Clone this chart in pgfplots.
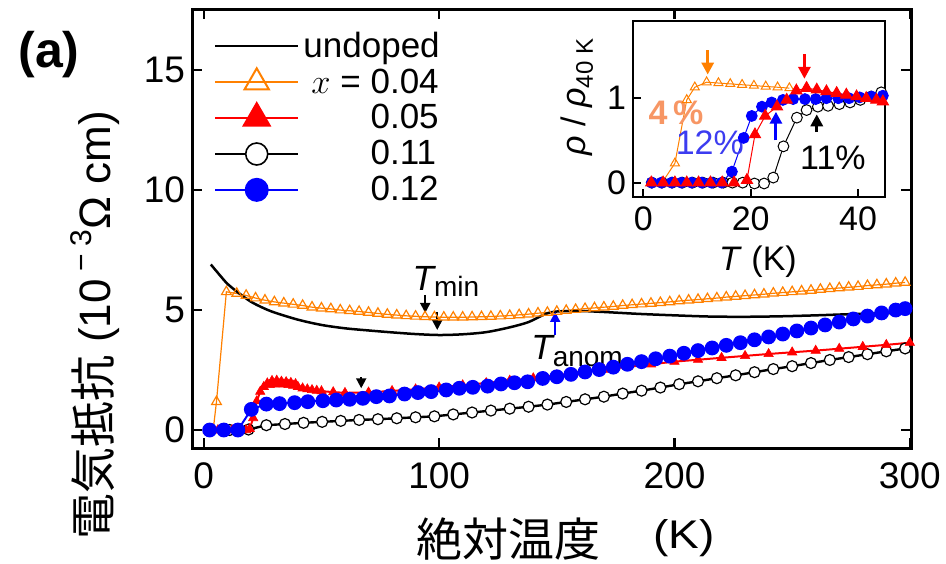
\documentclass[border=0pt]{standalone}
\usepackage{fontspec}
\setmainfont{Liberation Sans}
\newfontfamily\cjk{Noto Sans CJK JP}
\usepackage{pgfplots}
\pgfplotsset{compat=1.18}
\usetikzlibrary{arrows.meta}
\definecolor{cOrange}{RGB}{255,128,0}
\definecolor{cRed}{RGB}{255,0,0}
\definecolor{cBlue}{RGB}{0,0,255}
\definecolor{cSalmon}{RGB}{247,150,100}
\definecolor{cBlueT}{RGB}{60,60,240}
\begin{document}
\begin{tikzpicture}
\path[use as bounding box] (0pt,0pt) rectangle (473pt,281.5pt);
% ---------------- main axis ----------------
\begin{axis}[
  at={(96pt,57.5pt)}, anchor=south west,
  width=359.5pt, height=219.5pt, scale only axis,
  xmin=-5, xmax=300.5, ymin=-0.75, ymax=17.55,
  xtick={0,100,200,300}, ytick={0,5,10,15},
  minor tick num=0,
  tick align=inside, major tick length=5pt,
  axis line style={line width=1.5pt},
  every tick/.style={line width=1.2pt, black},
  /pgf/number format/assume math mode=true,
  tick label style={font=\fontsize{18.5}{20}\selectfont},
  xticklabel style={yshift=-4pt},
  legend cell align=left,
  legend style={draw=none, fill=none, at={(0.03,0.958)}, anchor=north west,
    font=\fontsize{17.5}{19}\selectfont, row sep=0.2pt, inner sep=0pt},
  legend image code/.code={\draw[mark repeat=2,mark phase=2,#1] plot coordinates {(0pt,0pt) (20.75pt,0pt) (41.5pt,0pt)};},
]
% orange x=0.04
\addplot[forget plot, cOrange, line width=0.6pt, mark=triangle, mark size=2.8pt, mark options={fill=white, line width=0.6pt}] coordinates {
(2,0) (4,0) (5.4,1.18) (9.6,5.76) (14,5.69) (18,5.61) (22,5.50) (26,5.41) (30,5.34) (34,5.29) (38,5.24)
(42,5.19) (46,5.12) (50,5.08) (54,5.05) (58,5.00) (62,4.97) (66,4.94) (70,4.90) (74,4.86) (78,4.82)
(82,4.79) (86,4.76) (90,4.74) (94,4.72) (98,4.71) (102,4.70) (106,4.70) (110,4.70) (114,4.71) (118,4.72)
(122,4.73) (126,4.75) (130,4.77) (134,4.80) (138,4.83) (142,4.87) (146,4.90) (150,4.94) (154,4.98) (158,5.02)
(162,5.06) (166,5.09) (170,5.12) (174,5.15) (178,5.19) (182,5.22) (186,5.25) (190,5.28) (194,5.31) (198,5.34)
(202,5.38) (206,5.41) (210,5.44) (214,5.47) (218,5.50) (222,5.54) (226,5.57) (230,5.60) (234,5.63) (238,5.66)
(242,5.70) (246,5.73) (250,5.76) (254,5.79) (258,5.82) (262,5.86) (266,5.89) (270,5.92) (274,5.95) (278,5.98)
(282,6.02) (286,6.05) (290,6.08) (294,6.12) (298,6.15)};
% undoped
\addplot[forget plot, black, line width=1.25pt, smooth] coordinates {
(3,6.9) (6,6.55) (10,6.1) (15,5.7) (20,5.35) (25,5.1) (30,4.9) (40,4.6) (50,4.38) (60,4.24) (70,4.15)
(80,4.07) (90,4.0) (100,3.96) (110,3.99) (120,4.08) (130,4.28) (138,4.5) (145,4.83) (150,4.94) (160,4.96)
(170,4.92) (185,4.84) (200,4.78) (215,4.73) (230,4.72) (245,4.74) (260,4.78) (275,4.83) (290,4.87) (300,4.9)};
% x=0.11 open circles
\addplot[forget plot, black, line width=1.2pt, mark=*, mark size=2.75pt, mark options={fill=white, line width=0.6pt}] coordinates {
(3,0) (11,0) (19,0.02) (26.6,0.2) (34.5,0.25) (42.4,0.3) (50.3,0.34) (58.2,0.38) (66,0.42) (74,0.45)
(82,0.49) (90,0.53) (98,0.57) (106,0.65) (114,0.73) (122,0.81) (130,0.89) (138,0.97) (146,1.06) (154,1.17)
(162,1.28) (170,1.39) (178,1.52) (186,1.64) (194,1.77) (202,1.91) (210,2.03) (218,2.16) (226,2.28) (234,2.41)
(242,2.54) (250,2.66) (258,2.79) (266,2.92) (274,3.04) (282,3.16) (290,3.28) (298,3.40)};
% x=0.05 red triangles
\addplot[forget plot, cRed, line width=1pt, mark=triangle*, mark size=2.7pt, mark options={line width=0.3pt}] coordinates {
(2,0) (4,0) (6,0) (8,0) (10,0) (12,0) (14,0) (16,0) (18,0) (19.5,0.05) (21,0.5) (22.5,1.2) (24,1.6)
(25.5,1.8) (27,1.95) (28,1.88) (29,2.05) (30,1.9) (31,2.06) (32,1.92) (33,2.02) (34,1.9) (35,2.0)
(36,1.88) (37,1.97) (38,1.85) (39,1.92) (40,1.8) (42,1.74) (44,1.7) (46,1.67) (48,1.64) (50,1.62)
(55,1.58) (60,1.55) (70,1.57) (80,1.63) (90,1.7) (100,1.78) (110,1.87) (120,1.96) (130,2.06) (140,2.16)
(150,2.28) (160,2.4) (170,2.52) (180,2.63) (190,2.74) (200,2.85) (210,2.93) (220,3.01) (230,3.09)
(240,3.17) (250,3.24) (260,3.31) (270,3.39) (280,3.47) (290,3.55) (300,3.64)};
% x=0.12 blue circles
\addplot[forget plot, cBlue, line width=1pt, mark=*, mark size=3.2pt] coordinates {
(2.5,0) (8.5,0) (14.5,0) (20.2,0.86) (26.6,1.08) (32.2,1.1) (38.6,1.14) (44.2,1.18) (50.6,1.22) (56.3,1.25)
(62,1.28) (67.6,1.32) (73.3,1.39) (78.9,1.42) (85.3,1.5) (91,1.56) (96.6,1.6) (103,1.67) (108.6,1.74)
(114.3,1.78) (120.6,1.83) (126.3,1.92) (132,1.97) (137.6,2.01) (144,2.15) (150,2.22) (156,2.32) (162,2.42)
(168,2.52) (174,2.62) (180,2.74) (186,2.85) (192,2.97) (198,3.08) (204,3.2) (210,3.31) (216,3.42)
(222,3.53) (228,3.64) (234,3.76) (240,3.88) (246,4.0) (252,4.13) (258,4.25) (264,4.38) (270,4.5)
(276,4.63) (282,4.75) (288,4.88) (294,5.0) (298,5.06)};
% legend
\addlegendimage{black, line width=1.25pt}
\addlegendentry{undoped}
\addlegendimage{cOrange, line width=1pt, mark=triangle, mark size=7pt, mark options={fill=white, line width=1pt}}
\addlegendentry{\hspace*{4pt}$x$ = 0.04}
\addlegendimage{cRed, line width=1pt, mark=triangle*, mark size=7.5pt}
\addlegendentry{\hspace*{4pt}\phantom{$x$ = }0.05}
\addlegendimage{black, line width=1pt, mark=*, mark size=5.5pt, mark options={fill=white, line width=0.8pt}}
\addlegendentry{\hspace*{4pt}\phantom{$x$ = }0.11}
\addlegendimage{cBlue, line width=1pt, mark=*, mark size=5.5pt}
\addlegendentry{\hspace*{4pt}\phantom{$x$ = }0.12}
% annotations
\draw[black, line width=1pt, -{Triangle[length=5pt,width=5pt]}] (axis cs:94.1,5.63) -- (axis cs:94.1,4.88);
\draw[black, line width=1pt, -{Triangle[length=5pt,width=5pt]}] (axis cs:99.2,4.92) -- (axis cs:99.2,4.17);
\draw[black, line width=1pt, -{Triangle[length=5pt,width=5pt]}] (axis cs:66.9,2.2) -- (axis cs:66.9,1.74);
\draw[cBlue, line width=1pt, -{Triangle[length=5pt,width=5pt]}] (axis cs:149.3,3.96) -- (axis cs:149.3,4.92);
\node[anchor=base west, inner sep=0pt, font=\fontsize{17.5}{19}\selectfont] at (axis cs:88.6,5.83) {\textit{T}\kern-1pt\raisebox{-0.35ex}{\fontsize{14}{15}\selectfont min}};
\node[anchor=base west, inner sep=0pt, font=\fontsize{17.5}{19}\selectfont] at (axis cs:139,2.92) {\textit{T}\kern-1pt\raisebox{-0.35ex}{\fontsize{14}{15}\selectfont anom}};
\end{axis}
% ---------------- inset ----------------
\begin{axis}[
  at={(316.5pt,183pt)}, anchor=south west,
  width=126pt, height=88pt, scale only axis,
  xmin=-1.9, xmax=45, ymin=-0.17, ymax=1.915,
  xtick={0,20,40}, ytick={0,1},
  xtick pos=left, ytick pos=left,
  tick align=inside, major tick length=4pt,
  axis line style={line width=1.3pt},
  every tick/.style={line width=1pt, black},
  /pgf/number format/assume math mode=true,
  tick label style={font=\fontsize{17}{18}\selectfont},
  xticklabel style={yshift=-1.5pt},
  clip=false,
]
\addplot[cOrange, line width=0.5pt, mark=triangle, mark size=2.6pt, mark options={fill=white, line width=0.5pt}] coordinates {
(1.6,0) (3.5,0) (5.9,0.23) (8.1,0.98) (9.6,1.13) (11.8,1.19) (14.0,1.18) (16.2,1.17) (18.4,1.16)
(20.6,1.15) (22.8,1.14) (25.0,1.13) (27.2,1.12)};
\addplot[black, line width=0.5pt, mark=*, mark size=2.7pt, mark options={fill=white, line width=0.5pt}] coordinates {
(1.6,0) (3.5,0) (5.4,0) (7.3,0) (9.2,0) (11.1,0) (13.0,0) (14.9,0) (16.6,0) (18.5,0) (20.7,-0.01) (22.5,-0.01)
(24.2,0.06) (26.1,0.43) (28.6,0.77) (30.4,0.86) (32.5,0.90) (34.4,0.91) (36.5,0.93) (38.5,0.95) (40.4,0.98)
(42.4,1.02) (44.3,1.07)};
\addplot[cBlue, line width=0.5pt, mark=*, mark size=2.7pt] coordinates {
(1.6,0) (3.4,0) (5.3,0) (7.1,0) (9.0,0) (10.9,0) (12.7,0) (14.6,0) (16.5,0.13) (18.7,0.53) (20.2,0.79)
(22.1,0.9) (23.9,0.95) (26,0.98) (27.9,0.99) (30.1,0.99) (32.1,0.99) (34.1,1.0) (36.3,1.0) (38.3,1.0)
(40.3,1.01) (42.5,1.02) (44.6,1.03)};
\addplot[cRed, line width=0.5pt, mark=triangle*, mark size=3.2pt] coordinates {
(1.5,0) (3.7,0) (5.9,0) (8.1,0) (10.3,0) (12.5,0) (14.7,0) (16.9,0) (19.3,0.03) (20.8,0.57) (22.7,0.79)
(24.9,0.9) (26.7,0.98) (28.5,1.09) (30.4,1.12) (32.3,1.10) (34.1,1.08) (36,1.06) (37.8,1.04) (39.7,1.02)
(41.5,1.0) (43.4,0.98) (44.6,0.96)};
\draw[cOrange, line width=1.5pt, -{Triangle[length=6pt,width=6pt]}] (axis cs:12,1.57) -- (axis cs:12,1.28);
\draw[cRed, line width=1.5pt, -{Triangle[length=6pt,width=6pt]}] (axis cs:30,1.52) -- (axis cs:30,1.23);
\draw[cBlue, line width=1.5pt, -{Triangle[length=6pt,width=6pt]}] (axis cs:24.7,0.5) -- (axis cs:24.7,0.84);
\draw[black, line width=1.5pt, -{Triangle[length=6pt,width=6pt]}] (axis cs:32.3,0.6) -- (axis cs:32.3,0.81);
\node[font=\bfseries\fontsize{17}{18}\selectfont, text=cSalmon, inner sep=0pt] at (axis cs:6.1,0.83) {4\,\%};
\node[font=\fontsize{17}{18}\selectfont, text=cBlueT, inner sep=0pt] at (axis cs:12.4,0.47) {12\%};
\node[font=\fontsize{17}{18}\selectfont, text=black, inner sep=0pt] at (axis cs:35.3,0.29) {11\%};
\end{axis}
% ---------------- labels ----------------
\node[font=\cjk\fontsize{23}{25}\selectfont, inner sep=0pt] at (254pt,12pt) {絶対温度};
\node[font=\fontsize{20}{22}\selectfont, inner sep=0pt] at (342pt,12.5pt) {\scalebox{1.15}[1]{(K)}};
\node[rotate=90, font=\fontsize{22}{24}\selectfont, inner sep=0pt] at (47.5pt,119pt) {{\cjk\fontsize{23}{25}\selectfont 電気抵抗} (10\,\raisebox{0.85ex}{\fontsize{15}{16}\selectfont − 3}Ω cm)};
\node[font=\bfseries\fontsize{25}{27}\selectfont, inner sep=0pt] at (24.5pt,254pt) {(a)};
\node[rotate=90, font=\fontsize{17}{18}\selectfont, inner sep=0pt] at (288.5pt,233pt) {\textit{ρ} / \textit{ρ}\raisebox{-0.4ex}{\fontsize{12}{13}\selectfont 40 K}};
\node[font=\fontsize{17}{18}\selectfont, inner sep=0pt] at (379pt,150.5pt) {\textit{T} (K)};
\end{tikzpicture}
\end{document}
